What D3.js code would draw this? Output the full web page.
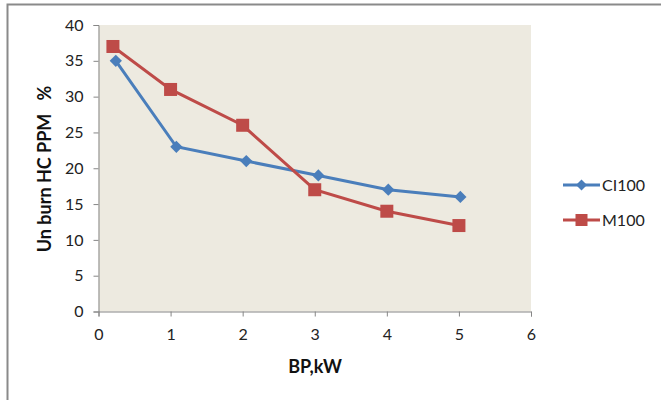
<!DOCTYPE html>
<html><head><meta charset="utf-8">
<script src="https://cdn.jsdelivr.net/npm/d3@7"></script>
<style>html,body{margin:0;padding:0;background:#fff;}svg{display:block;}</style>
</head><body>
<svg id="c" width="661" height="400"></svg>
<script>
const xTicks = [0,1,2,3,4,5,6];
const yTicks = [0,5,10,15,20,25,30,35,40];
const ciX = [0.24,1.08,2.05,3.05,4.02,5.02];
const ciY = [35,23,21,19,17,16];
const mX = [0.2,1,2,3,4,5];
const mY = [37,31,26,17,14,12];
const seriesNames = ["CI100","M100"];
const xTitle = "BP,kW";
const yTitle = "Un burn HC PPM   %";

const svg = d3.select("#c");
const font = "Lato, 'Open Sans', sans-serif";
svg.append("rect").attr("x",7.5).attr("y",4.5).attr("width",700).attr("height",450)
  .attr("fill","#fff").attr("stroke","#8a8a8a").attr("stroke-width",2);

const x = d3.scaleLinear().domain([0,6]).range([98.5,531]);
const y = d3.scaleLinear().domain([0,40]).range([311.5,25]);

svg.append("rect").attr("x",x(0)).attr("y",y(40)).attr("width",x(6)-x(0)).attr("height",y(0)-y(40))
  .attr("fill","#EDEAE0");

const ax = svg.append("g").attr("transform",`translate(0,${y(0)})`)
  .call(d3.axisBottom(x).tickValues(xTicks).tickSize(5).tickPadding(12).tickFormat(d3.format("d")));
const ay = svg.append("g").attr("transform",`translate(${x(0)},0)`)
  .call(d3.axisLeft(y).tickValues(yTicks).tickSize(5).tickPadding(10).tickFormat(d3.format("d")));
[ax,ay].forEach(g=>{
  g.selectAll("path,line").attr("stroke","#868686").attr("stroke-width",1);
  g.selectAll("text").attr("font-family",font).attr("font-size",16).attr("fill","#222");
});

const line = d3.line().x(d=>x(d[0])).y(d=>y(d[1]));
const ci = ciX.map((v,i)=>[v,ciY[i]]);
const m = mX.map((v,i)=>[v,mY[i]]);
const blue = "#4A7EBB", red = "#BE4B48";

svg.append("path").datum(ci).attr("d",line).attr("fill","none").attr("stroke",blue).attr("stroke-width",3);
svg.append("path").datum(m).attr("d",line).attr("fill","none").attr("stroke",red).attr("stroke-width",3);

svg.selectAll(".ci").data(ci).enter().append("path")
  .attr("transform",d=>`translate(${x(d[0])},${y(d[1])}) rotate(45)`)
  .attr("d",d3.symbol().type(d3.symbolSquare).size(75)()).attr("fill",blue);
svg.selectAll(".m").data(m).enter().append("rect")
  .attr("x",d=>x(d[0])-6.5).attr("y",d=>y(d[1])-6.5).attr("width",13).attr("height",13)
  .attr("fill",red);

svg.append("text").attr("x",315).attr("y",373).attr("text-anchor","middle")
  .attr("font-family",font).attr("font-weight","bold").attr("font-size",18).attr("fill","#111").text(xTitle);
svg.append("text").attr("transform","translate(51,169) rotate(-90)").attr("text-anchor","middle")
  .attr("font-family",font).attr("font-weight","bold").attr("font-size",18).attr("fill","#111")
  .style("white-space","pre").text(yTitle);

const leg = [{n:seriesNames[0],c:blue,yy:185,t:"d"},{n:seriesNames[1],c:red,yy:220,t:"s"}];
leg.forEach(l=>{
  svg.append("line").attr("x1",563).attr("x2",600).attr("y1",l.yy).attr("y2",l.yy).attr("stroke",l.c).attr("stroke-width",3);
  if(l.t==="d"){
    svg.append("path").attr("transform",`translate(581.5,${l.yy}) rotate(45)`)
      .attr("d",d3.symbol().type(d3.symbolSquare).size(60)()).attr("fill",l.c);
  } else {
    svg.append("rect").attr("x",575.5).attr("y",l.yy-6).attr("width",12).attr("height",12).attr("fill",l.c);
  }
  svg.append("text").attr("x",602).attr("y",l.yy+5.5).attr("font-family",font).attr("font-size",16).attr("fill","#222").text(l.n);
});
</script>
</body></html>
